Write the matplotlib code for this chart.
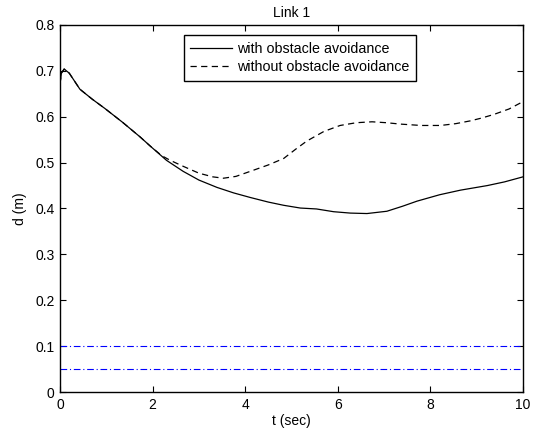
import matplotlib
matplotlib.use("Agg")
import matplotlib.pyplot as plt

t_with = [0, 0.03, 0.09, 0.2, 0.43, 0.7, 0.97, 1.35, 1.73, 1.95, 2.3, 2.66, 3.0, 3.39,
          3.75, 4.11, 4.5, 4.83, 5.19, 5.54, 5.91, 6.27, 6.63, 7.06, 7.4, 7.71, 8.2,
          8.65, 9.23, 9.6, 10.0]
d_with = [0.672, 0.695, 0.704, 0.695, 0.66, 0.638, 0.618, 0.588, 0.556, 0.536, 0.505,
          0.481, 0.462, 0.446, 0.434, 0.424, 0.414, 0.407, 0.401, 0.399, 0.393, 0.390,
          0.389, 0.394, 0.405, 0.416, 0.430, 0.440, 0.450, 0.458, 0.469]

t_without = [0, 0.03, 0.09, 0.2, 0.43, 0.7, 0.97, 1.35, 1.73, 1.95, 2.2, 2.38, 2.66,
             3.0, 3.3, 3.53, 3.8, 4.11, 4.5, 4.83, 5.1, 5.33, 5.7, 6.05, 6.4, 6.74,
             7.05, 7.35, 7.8, 8.22, 8.55, 8.86, 9.1, 9.37, 9.7, 10.0]
d_without = [0.672, 0.695, 0.704, 0.695, 0.66, 0.638, 0.618, 0.588, 0.556, 0.536, 0.515,
             0.505, 0.492, 0.477, 0.469, 0.466, 0.470, 0.481, 0.495, 0.509, 0.530, 0.547,
             0.568, 0.581, 0.587, 0.589, 0.587, 0.584, 0.581, 0.581, 0.585, 0.591, 0.597,
             0.605, 0.617, 0.633]

limits = [0.1, 0.05]
labels = ["with obstacle avoidance", "without obstacle avoidance"]
xticks = [0, 2, 4, 6, 8, 10]
yticks = [0, 0.1, 0.2, 0.3, 0.4, 0.5, 0.6, 0.7, 0.8]

plt.rcParams['font.family'] = ['Liberation Sans', 'DejaVu Sans']
plt.rcParams['font.size'] = 10

fig = plt.figure(figsize=(5.36, 4.36), dpi=100)
ax = fig.add_axes([60/536, 1 - 392/436, 463/536, 367/436])

ax.plot(t_with, d_with, color='black', lw=0.9, label=labels[0])
ax.plot(t_without, d_without, color='black', lw=0.9, linestyle=(0, (5, 3.5)), label=labels[1])
for v in limits:
    ax.axhline(v, color='blue', lw=0.8, linestyle=(0, (6, 2.5, 1, 2.5)))

ax.set_xlim(0, 10)
ax.set_ylim(0, 0.8)
ax.set_xticks(xticks)
ax.set_yticks(yticks)
ax.set_xticklabels([str(x) for x in xticks])
ax.set_yticklabels(['0'] + ['%.1f' % y for y in yticks[1:]])
ax.tick_params(direction='in', length=4, width=0.8, top=True, right=True, pad=4)
for s in ax.spines.values():
    s.set_linewidth(1.0)

ax.set_xlabel('t (sec)', labelpad=2)
ax.set_ylabel('d (m)', labelpad=6)
ax.set_title('Link 1', fontsize=10, pad=6)

leg = ax.legend(loc='upper center', bbox_to_anchor=(0.518, 0.972), frameon=True,
                fancybox=False, edgecolor='black', framealpha=1, handlelength=2.95,
                borderpad=0.45, labelspacing=0.31, handletextpad=0.35, borderaxespad=0,
                prop={'size': 10.3})
leg.get_frame().set_linewidth(1.0)

fig.savefig('out.png', dpi=100)
